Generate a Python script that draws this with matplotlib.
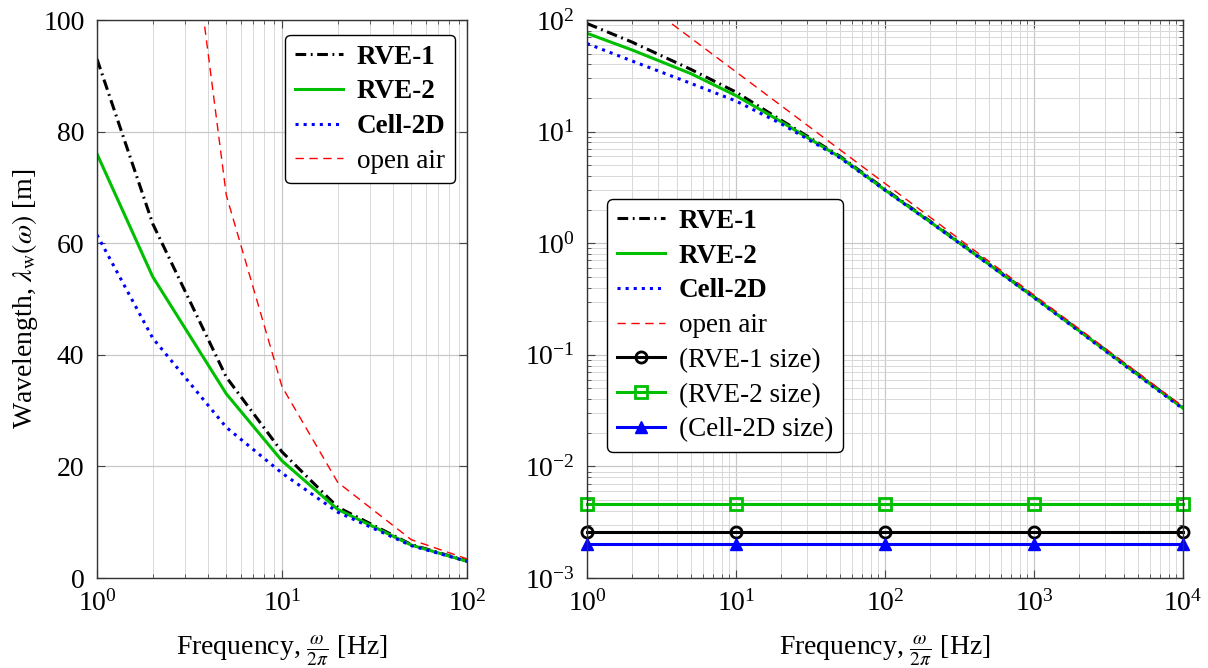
import numpy as np
import matplotlib
matplotlib.use("Agg")
import matplotlib.pyplot as plt
from matplotlib.ticker import LogLocator, NullFormatter

plt.rcParams['font.family'] = ['Liberation Serif', 'DejaVu Serif']
plt.rcParams['mathtext.fontset'] = 'stix'
plt.rcParams['font.size'] = 20

# data
freq = [1, 2, 5, 10, 20, 50, 100, 200, 500, 1000, 2000, 5000, 10000]
rve1 = [93, 63.5, 36, 22.6, 12.7, 6.0, 3.05, 1.58, 0.65, 0.33, 0.166, 0.067, 0.0335]
rve2 = [76, 54, 33, 21, 12.3, 5.9, 3.0, 1.56, 0.645, 0.328, 0.165, 0.066, 0.0333]
cell = [61.5, 43, 27, 18.8, 11.8, 5.8, 2.98, 1.55, 0.64, 0.325, 0.163, 0.065, 0.0328]
openair = [343, 171.5, 68.6, 34.3, 17.15, 6.86, 3.43, 1.715, 0.686, 0.343, 0.1715, 0.0686, 0.0343]

size_freq = [1, 10, 100, 1000, 10000]
rve1_size = [0.0026] * 5
rve2_size = [0.0046] * 5
cell_size = [0.002] * 5

green = '#00bf00'
dashdot = (0, (3.5, 1.5, 0.6, 1.5))
dashed = (0, (6, 4))
xlabel = r'Frequency, $\frac{\omega}{2\pi}$ [Hz]'

fig = plt.figure(figsize=(12.08, 6.68), dpi=100)
ax1 = fig.add_axes([97/1208, 1-578/668, 370/1208, 558/668])
ax2 = fig.add_axes([587/1208, 1-578/668, 596/1208, 558/668])


def style(ax):
    ax.grid(True, which='major', color='#c8c8c8', lw=0.9)
    ax.grid(True, which='minor', color='#d8d8d8', lw=0.7)
    ax.tick_params(which='both', direction='in', top=True, right=True, color='#444444', pad=9)
    ax.tick_params(which='major', length=6)
    ax.tick_params(which='minor', length=3)
    for s in ax.spines.values():
        s.set_color('#333333')
        s.set_linewidth(1.0)
    ax.set_axisbelow(True)


def make_legend(ax, loc, anchor):
    leg = ax.legend(loc=loc, bbox_to_anchor=anchor, fancybox=True, fontsize=19.5,
                    edgecolor='black', framealpha=1, handlelength=1.8, borderpad=0.35,
                    labelspacing=0.36, handletextpad=0.5, borderaxespad=0)
    leg.get_frame().set_linewidth(1.0)
    for i, t in enumerate(leg.get_texts()):
        if i < 3:
            t.set_fontweight('bold')
    return leg


# left panel
n = 7
ax1.plot(freq[:n], rve1[:n], color='black', ls=dashdot, lw=2.2, label='RVE-1')
ax1.plot(freq[:n], rve2[:n], color=green, ls='-', lw=2.2, label='RVE-2')
ax1.plot(freq[:n], cell[:n], color='blue', ls=':', lw=2.2, label='Cell-2D')
ax1.plot(freq[:n], openair[:n], color='red', ls=dashed, lw=1.0, label='open air')
ax1.set_xscale('log')
ax1.set_xlim(1, 100)
ax1.set_ylim(0, 100)
ax1.set_yticks([0, 20, 40, 60, 80, 100])
ax1.xaxis.set_minor_locator(LogLocator(base=10, subs=np.arange(2, 10)))
ax1.xaxis.set_minor_formatter(NullFormatter())
style(ax1)
ax1.set_xlabel(xlabel, labelpad=12)
ax1.set_ylabel(r'Wavelength, $\lambda_{\mathrm{w}}(\omega)$ [m]', labelpad=2)
make_legend(ax1, 'upper right', (0.968, 0.973))

# right panel
ax2.plot(freq, rve1, color='black', ls=dashdot, lw=2.2, label='RVE-1')
ax2.plot(freq, rve2, color=green, ls='-', lw=2.2, label='RVE-2')
ax2.plot(freq, cell, color='blue', ls=':', lw=2.2, label='Cell-2D')
ax2.plot(freq, openair, color='red', ls=dashed, lw=1.0, label='open air')
ax2.plot(size_freq, rve1_size, color='black', lw=2.2, marker='o', ms=8, mfc='none', mew=2,
         label='(RVE-1 size)', clip_on=False)
ax2.plot(size_freq, rve2_size, color=green, lw=2.2, marker='s', ms=8, mfc='none', mew=2,
         label='(RVE-2 size)', clip_on=False)
ax2.plot(size_freq, cell_size, color='blue', lw=2.2, marker='^', ms=9,
         label='(Cell-2D size)', clip_on=False)
ax2.set_xscale('log')
ax2.set_yscale('log')
ax2.set_xlim(1, 1e4)
ax2.set_ylim(1e-3, 1e2)
for axis in (ax2.xaxis, ax2.yaxis):
    axis.set_major_locator(LogLocator(base=10, numticks=20))
    axis.set_minor_locator(LogLocator(base=10, subs=np.arange(2, 10), numticks=20))
    axis.set_minor_formatter(NullFormatter())
style(ax2)
ax2.set_xlabel(xlabel, labelpad=12)
make_legend(ax2, 'lower left', (0.034, 0.226))

fig.savefig('out.png', dpi=100)
